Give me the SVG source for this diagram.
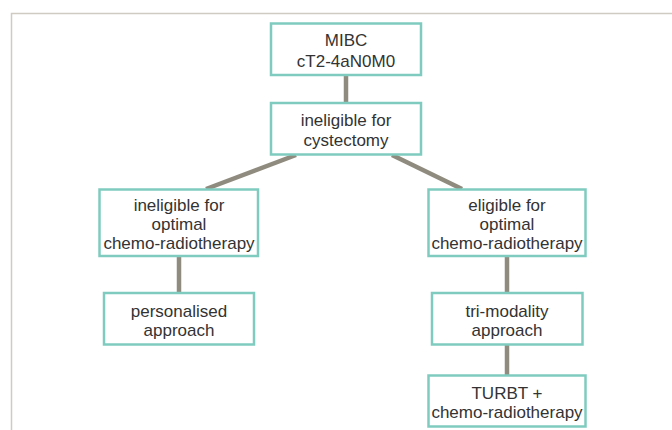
<svg xmlns="http://www.w3.org/2000/svg" width="672" height="430" viewBox="0 0 672 430">
<style>
.box{fill:#ffffff;stroke:#7fcbbf;stroke-width:2.5}
.t{font-family:"Liberation Sans",Arial,sans-serif;font-size:17px;fill:#333333;text-anchor:middle}
.c{stroke:#8f8b7e;stroke-width:4.5;fill:none}
.frame{stroke:#cfcbc2;stroke-width:1.5;fill:none}
</style>
<rect width="672" height="430" fill="#ffffff"/>
<path class="frame" d="M11.5,430 V13.5 H672"/>
<g id="connectors">
<line class="c" x1="346" y1="75" x2="346" y2="103"/>
<line class="c" x1="296" y1="155" x2="206" y2="189"/>
<line class="c" x1="392" y1="155" x2="462" y2="189"/>
<line class="c" x1="179" y1="256" x2="179" y2="293"/>
<line class="c" x1="507" y1="256" x2="507" y2="293"/>
<line class="c" x1="507" y1="344" x2="507" y2="375"/>
</g>
<g id="n1">
<rect class="box" x="271" y="23.5" width="150" height="51.5"/>
<text class="t" x="346" y="46">MIBC</text>
<text class="t" x="346" y="66.5">cT2-4aN0M0</text>
</g>
<g id="n2">
<rect class="box" x="271" y="103" width="150" height="51.5"/>
<text class="t" x="346" y="126">ineligible for</text>
<text class="t" x="346" y="145.5">cystectomy</text>
</g>
<g id="n3">
<rect class="box" x="99.5" y="189.5" width="158.5" height="66.5"/>
<text class="t" x="179" y="211">ineligible for</text>
<text class="t" x="179" y="230">optimal</text>
<text class="t" x="179" y="249">chemo-radiotherapy</text>
</g>
<g id="n4">
<rect class="box" x="428.5" y="189.5" width="157" height="66.5"/>
<text class="t" x="507" y="211">eligible for</text>
<text class="t" x="507" y="230">optimal</text>
<text class="t" x="507" y="249">chemo-radiotherapy</text>
</g>
<g id="n5">
<rect class="box" x="104" y="293" width="150" height="51.5"/>
<text class="t" x="179" y="316.5">personalised</text>
<text class="t" x="179" y="335.5">approach</text>
</g>
<g id="n6">
<rect class="box" x="432" y="293" width="150.5" height="51.5"/>
<text class="t" x="507" y="316.5">tri-modality</text>
<text class="t" x="507" y="335.5">approach</text>
</g>
<g id="n7">
<rect class="box" x="428.5" y="375.5" width="157" height="51"/>
<text class="t" x="507" y="398.5">TURBT +</text>
<text class="t" x="507" y="417.5">chemo-radiotherapy</text>
</g>
</svg>
